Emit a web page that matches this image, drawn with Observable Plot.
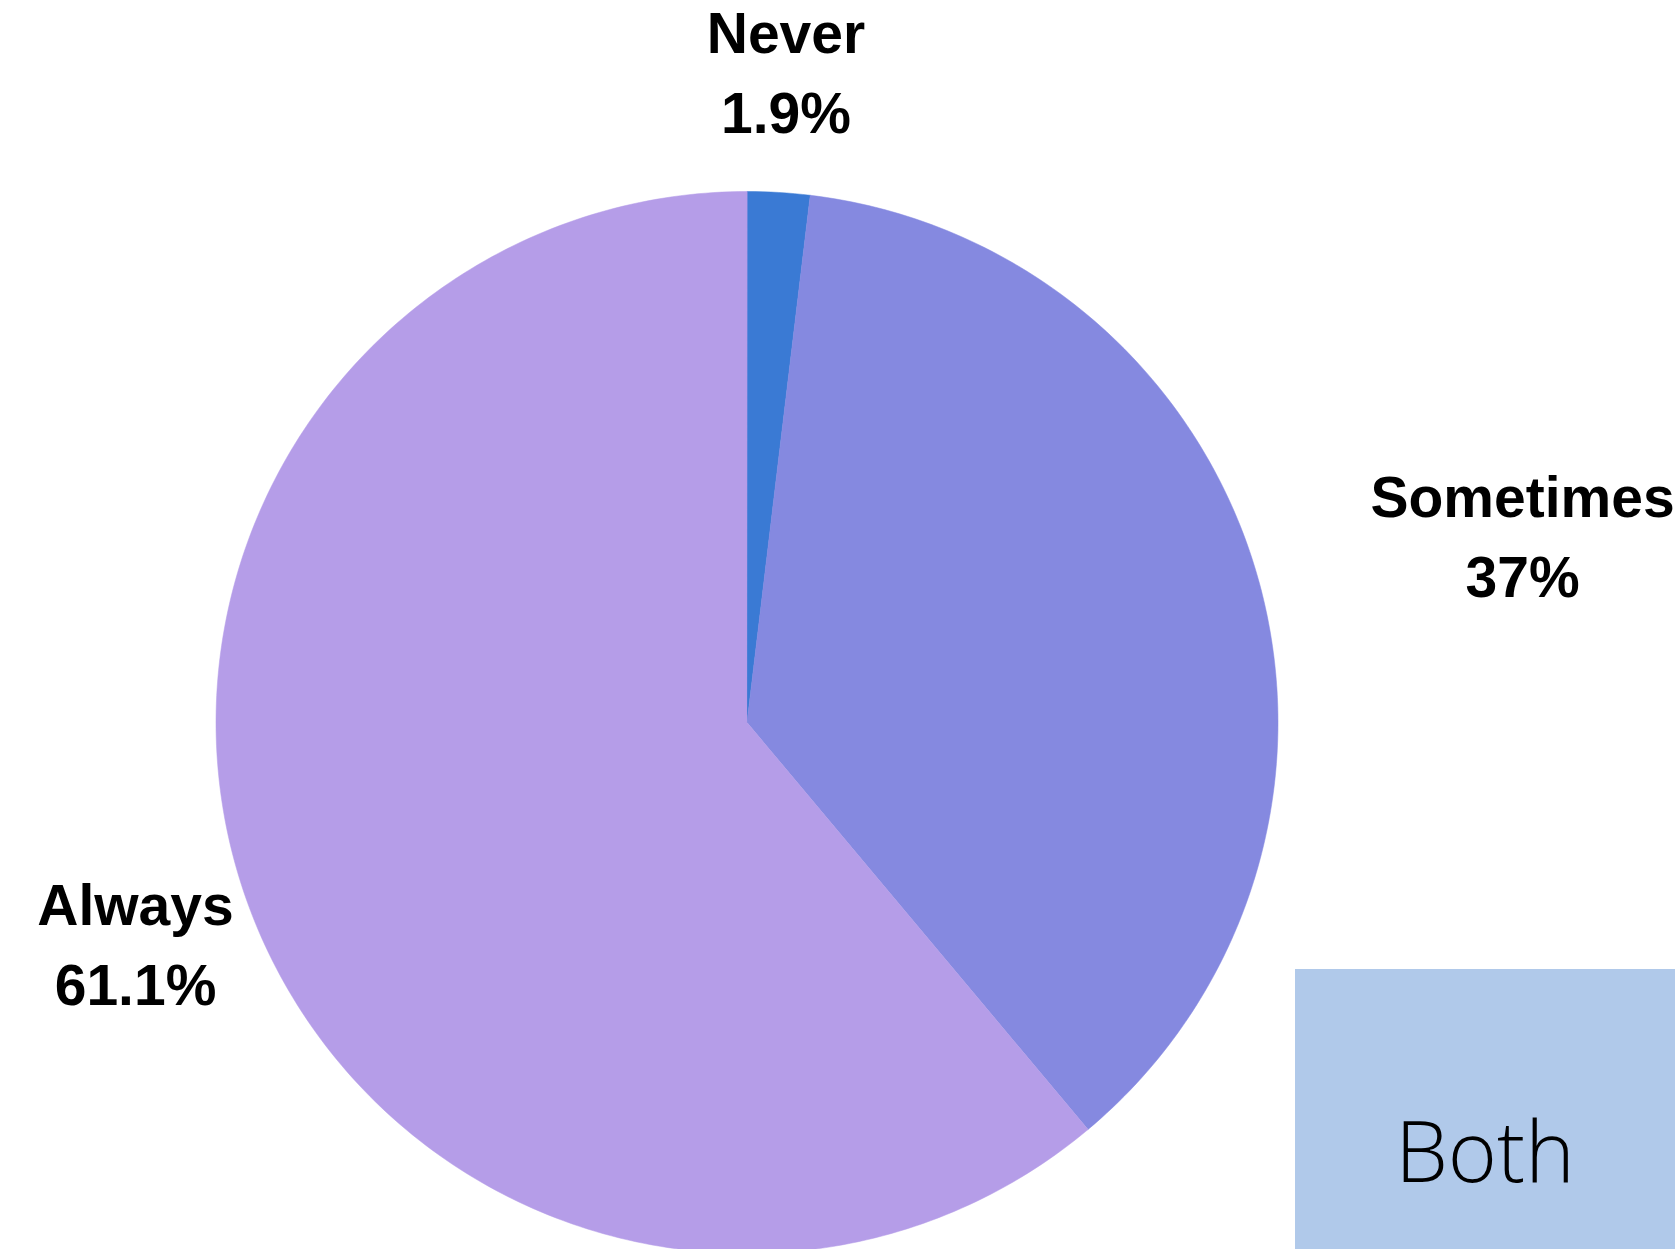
<!DOCTYPE html>
<html>
<head>
<meta charset="utf-8">
<script src="https://cdn.jsdelivr.net/npm/d3@7"></script>
<script src="https://cdn.jsdelivr.net/npm/@observablehq/plot@0.6"></script>
<style>
  html, body { margin: 0; padding: 0; background: #ffffff; }
  #wrap { position: relative; width: 1675px; height: 1249px; overflow: hidden; }
  #both {
    position: absolute; left: 1295px; top: 969px; width: 380px; height: 280px;
    background: #b0c9ea;
  }
  #both span {
    position: absolute; left: 0; width: 380px; text-align: center; top: 123px;
    font-family: "Open Sans", sans-serif; font-weight: 300; font-size: 84px; color: #000;
  }
</style>
</head>
<body>
<div id="wrap"><div id="chart"></div><div id="both"><span>Both</span></div></div>
<script>
// Data
const categories = ["Never", "Sometimes", "Always"];
const values = [1.9, 37, 61.1];
const colors = ["#3a7ad4", "#8589e0", "#b59de8"];

// Layout (unit-circle coordinates for label anchors)
const labelX = [0.0734, 1.4605, -1.1516];
const labelY = [1.2345, 0.3606, -0.4077];

const pie = d3.pie().sort(null).value(d => d.value);
const rows = categories.map((c, i) => ({category: c, value: values[i]}));
const arcs = pie(rows);

// Build slice outlines on a unit circle (angle measured clockwise from 12 o'clock)
const outline = [];
for (const a of arcs) {
  const n = Math.max(4, Math.ceil((a.endAngle - a.startAngle) / (Math.PI * 2) * 400));
  outline.push({category: a.data.category, x: 0, y: 0});
  for (let k = 0; k <= n; k++) {
    const t = a.startAngle + (a.endAngle - a.startAngle) * k / n;
    outline.push({category: a.data.category, x: Math.sin(t), y: Math.cos(t)});
  }
}

const labels = rows.map((d, i) => ({...d, lx: labelX[i], ly: labelY[i]}));

const chart = Plot.plot({
  width: 1675,
  height: 1249,
  margin: 0,
  style: {background: "transparent"},
  x: {domain: [-1, 1], range: [215.5, 1277.5], axis: null},
  y: {domain: [-1, 1], range: [1253, 191], axis: null},
  color: {domain: categories, range: colors},
  marks: [
    Plot.line(outline, {x: "x", y: "y", z: "category", fill: "category", stroke: "category", strokeWidth: 0.5, curve: "linear-closed"}),
    Plot.text(labels, {
      x: "lx", y: "ly",
      text: d => `${d.category}\n${d.value}%`,
      fontSize: 57, fontWeight: "bold", fontFamily: "Liberation Sans, Arial, sans-serif",
      lineHeight: 1.41, textAnchor: "middle", lineAnchor: "middle", fill: "#000"
    })
  ]
});
document.getElementById("chart").appendChild(chart);
</script>
</body>
</html>
